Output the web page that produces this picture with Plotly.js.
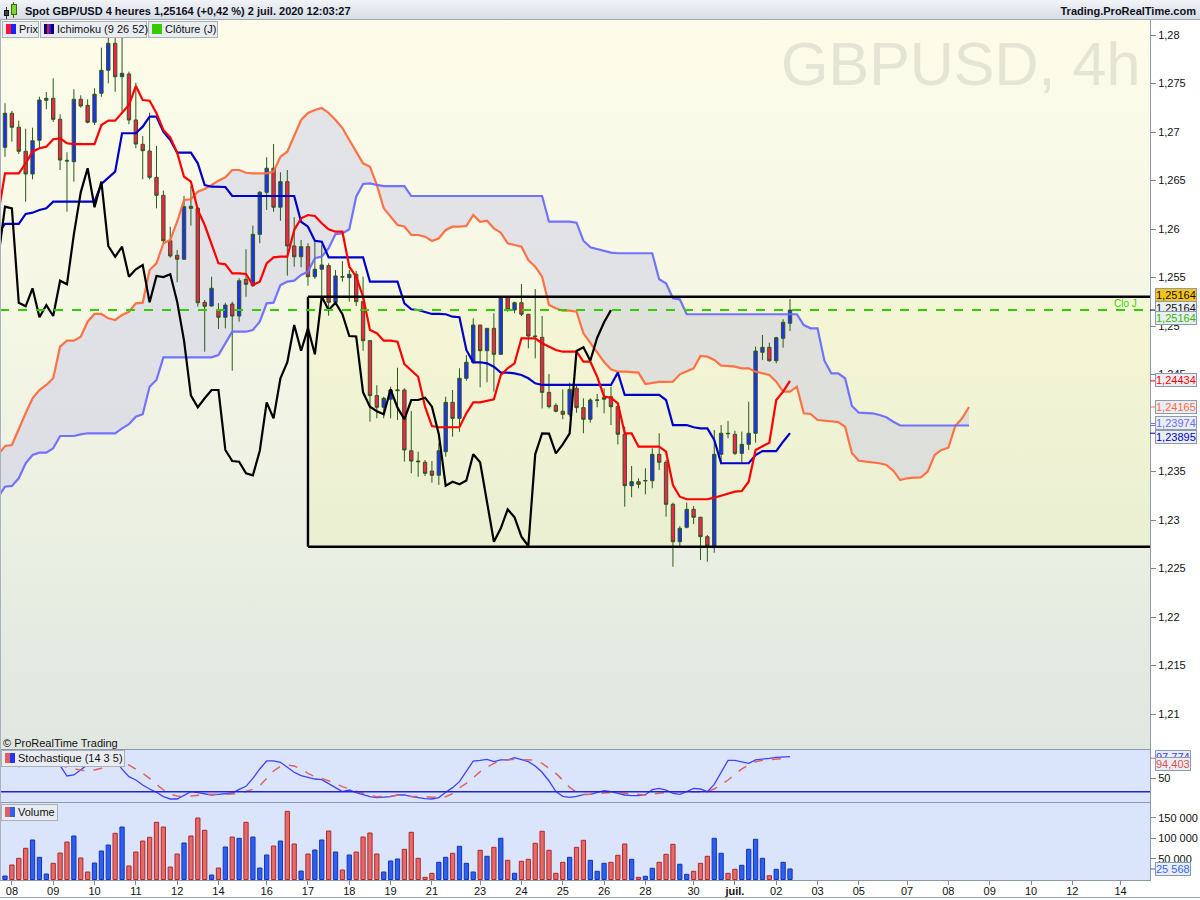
<!DOCTYPE html>
<html>
<head>
<meta charset="utf-8">
<title>GBPUSD 4h - Ichimoku</title>
<script src="https://cdn.plot.ly/plotly-3.0.1.min.js"></script>
<style>
html,body{margin:0;padding:0;background:#ffffff;}
#wrap{position:relative;width:1200px;height:900px;overflow:hidden;font-family:"Liberation Sans",Arial,Helvetica,sans-serif;color:#111;}
#bgPrice{position:absolute;left:0;top:20px;width:1150px;height:730px;background:linear-gradient(to bottom,#fcfce9 0%,#f4f6e4 45%,#e0e7e1 100%);}
#bgLower{position:absolute;left:0;top:750px;width:1150px;height:130px;background:#dae4fa;}
#water{position:absolute;left:781px;top:33px;font-size:61px;line-height:62px;color:#e5e5d5;white-space:nowrap;}
#leftEdge{position:absolute;left:0;top:20px;width:1px;height:860px;background:#a9b3c0;z-index:4;}
#bottomEdge{position:absolute;left:0;top:897px;width:1200px;height:1px;background:#9aa5b2;z-index:4;}
#chart{position:absolute;left:0;top:0;width:1200px;height:900px;z-index:2;}
#header{position:absolute;left:0;top:0;width:1200px;height:20px;z-index:3;background:linear-gradient(to bottom,#f1f4f7,#d6dde6);border-bottom:1px solid #9ea9b6;box-sizing:border-box;}
#htitle{position:absolute;left:25px;top:4px;font-size:11px;line-height:14px;font-weight:bold;color:#10101c;white-space:nowrap;}
#hsite{position:absolute;right:4px;top:4px;font-size:11px;line-height:14px;font-weight:bold;color:#10101c;white-space:nowrap;}
.hc{position:absolute;box-sizing:border-box;}
.lbox{position:absolute;z-index:3;height:17px;box-sizing:border-box;border:1px solid #a9b1bb;background:#e9edf1;font-size:11px;line-height:15px;color:#111;padding-left:3px;white-space:nowrap;}
.ic{display:inline-block;width:10px;height:10px;vertical-align:-1px;margin-right:3px;}
#copy{position:absolute;left:3px;top:736px;font-size:11px;line-height:14px;color:#111;z-index:3;white-space:nowrap;}
</style>
</head>
<body>
<div id="wrap">
  <div id="bgPrice"></div>
  <div id="bgLower"></div>
  <div id="water">GBPUSD, 4h</div>
  <div id="chart"></div>
  <div id="header">
    <div class="hc" style="left:6px;top:7px;width:1px;height:12px;background:#333;"></div>
    <div class="hc" style="left:4px;top:10px;width:5px;height:6px;background:#444;border:1px solid #111;"></div>
    <div class="hc" style="left:13px;top:2px;width:1px;height:16px;background:#3a6a10;"></div>
    <div class="hc" style="left:11px;top:4px;width:6px;height:11px;background:#7fd62c;border:1px solid #3a6a10;"></div>
    <div id="htitle">Spot GBP/USD 4 heures 1,25164 (+0,42 %) 2 juil. 2020 12:03:27</div>
    <div id="hsite">Trading.ProRealTime.com</div>
  </div>
  <div class="lbox" style="left:2px;top:21px;width:37px;"><span class="ic" style="background:linear-gradient(to right,#ff1133 50%,#1122ff 50%);"></span>Prix</div>
  <div class="lbox" style="left:40px;top:21px;width:107px;"><span class="ic" style="background:linear-gradient(to right,#000080 0,#000080 30%,#ff1010 30%,#ff1010 50%,#2020ff 50%,#2020ff 70%,#000080 70%);"></span>Ichimoku (9 26 52)</div>
  <div class="lbox" style="left:148px;top:21px;width:70px;"><span class="ic" style="background:#33cc00;"></span>Clôture (J)</div>
  <div id="copy">© ProRealTime Trading</div>
  <div class="lbox" style="left:1px;top:750px;width:124px;"><span class="ic" style="background:linear-gradient(to right,#e06060 50%,#2233ff 50%);"></span>Stochastique (14 3 5)</div>
  <div class="lbox" style="left:1px;top:804px;width:57px;"><span class="ic" style="background:linear-gradient(to right,#e06060 50%,#2f60f0 50%);"></span>Volume</div>
  <div id="leftEdge"></div>
  <div id="bottomEdge"></div>
</div>
<script>
// ---------- DATA ----------
// 4-hour bars, index 0 .. 114
const opens = [1.26842,1.27193,1.27049,1.26801,1.26567,1.26915,1.27327,1.27347,1.27131,1.26708,
 1.26694,1.27337,1.27275,1.27100,1.27399,1.27636,1.27914,1.27570,1.27598,1.27124,
 1.26873,1.26804,1.26533,1.26347,1.25879,1.25729,1.25688,1.26234,1.26213,1.25244,
 1.25206,1.25165,1.25090,1.25227,1.25103,1.25481,1.25415,1.25945,1.26378,1.26626,
 1.26224,1.26488,1.25825,1.25714,1.25818,1.25508,1.25585,1.25622,1.25244,1.25508,
 1.25498,1.25533,1.25251,1.24849,1.24282,1.24162,1.24245,1.24333,1.24340,1.23714,
 1.23608,1.23595,1.23505,1.23461,1.23704,1.24213,1.24048,1.24461,1.24626,1.25010,
 1.24745,1.24976,1.24708,1.25302,1.25165,1.25240,1.25121,1.24897,1.24883,1.24316,
 1.24182,1.24121,1.24090,1.24358,1.24158,1.24038,1.24234,1.24245,1.24271,1.24168,
 1.23884,1.23354,1.23395,1.23402,1.23405,1.23677,1.23595,1.23162,1.22776,1.22925,
 1.23110,1.23028,1.22828,1.22732,1.23677,1.23894,1.23884,1.23687,1.23780,1.23894,
 1.24729,1.24780,1.24642,1.24873,1.25028];
const highs = [1.27296,1.27217,1.27117,1.27034,1.27044,1.27364,1.27412,1.27554,1.27183,1.26791,
 1.27440,1.27378,1.27337,1.27451,1.27869,1.27969,1.27969,1.27969,1.27622,1.27508,
 1.26959,1.27199,1.26856,1.26395,1.26024,1.25784,1.26340,1.26443,1.26224,1.25268,
 1.25508,1.25234,1.25240,1.25251,1.25492,1.25791,1.26034,1.26392,1.26739,1.26876,
 1.26585,1.26608,1.26121,1.25887,1.25853,1.25869,1.25835,1.25646,1.25577,1.25670,
 1.25577,1.25567,1.25508,1.24856,1.24389,1.24271,1.24374,1.24570,1.24358,1.24124,
 1.23704,1.23619,1.23608,1.23791,1.24271,1.24340,1.24564,1.24701,1.25079,1.25010,
 1.24976,1.25131,1.25309,1.25309,1.25251,1.25433,1.25124,1.25381,1.25103,1.24505,
 1.24203,1.24347,1.24415,1.24402,1.24255,1.24255,1.24299,1.24358,1.24374,1.24219,
 1.23962,1.23557,1.23430,1.23533,1.23739,1.23894,1.23619,1.23179,1.22938,1.23179,
 1.23144,1.23034,1.22845,1.23928,1.23979,1.24021,1.23921,1.23911,1.24219,1.24787,
 1.24907,1.24828,1.24889,1.25069,1.25278];
const lows = [1.26745,1.26900,1.26773,1.26281,1.26512,1.26842,1.27234,1.27103,1.26608,1.26178,
 1.26488,1.27251,1.27090,1.27072,1.27364,1.27502,1.27415,1.27209,1.27079,1.26832,
 1.26512,1.26512,1.26213,1.25859,1.25704,1.25451,1.25680,1.26034,1.25199,1.24735,
 1.25199,1.24969,1.24976,1.24539,1.25044,1.25302,1.25405,1.25853,1.26196,1.26178,
 1.26086,1.25519,1.25611,1.25605,1.25415,1.25485,1.25302,1.25106,1.25216,1.25457,
 1.25251,1.25206,1.24745,1.24013,1.24048,1.24048,1.24048,1.24031,1.23601,1.23481,
 1.23446,1.23453,1.23385,1.23361,1.23653,1.23859,1.23910,1.24436,1.24615,1.24368,
 1.24420,1.24323,1.24701,1.25147,1.25131,1.25103,1.24770,1.24667,1.24151,1.24151,
 1.24110,1.24038,1.24065,1.24106,1.23894,1.24003,1.24162,1.24100,1.23979,1.23780,
 1.23137,1.23234,1.23327,1.23265,1.23327,1.23515,1.23034,1.22519,1.22732,1.22914,
 1.22959,1.22588,1.22570,1.22663,1.23574,1.23842,1.23670,1.23595,1.23722,1.23797,
 1.24650,1.24632,1.24615,1.24776,1.24948];
const closes = [1.27193,1.27049,1.26801,1.26567,1.26910,1.27330,1.27347,1.27131,1.26711,1.26701,
 1.27337,1.27268,1.27100,1.27389,1.27636,1.27914,1.27570,1.27605,1.27124,1.26876,
 1.26807,1.26533,1.26347,1.25879,1.25722,1.25688,1.26230,1.26213,1.25240,1.25203,
 1.25389,1.25090,1.25216,1.25103,1.25467,1.25430,1.25945,1.26378,1.26626,1.26224,
 1.26488,1.25825,1.25714,1.25818,1.25508,1.25585,1.25629,1.25244,1.25516,1.25505,
 1.25533,1.25251,1.24849,1.24282,1.24162,1.24255,1.24340,1.24340,1.23722,1.23608,
 1.23601,1.23481,1.23461,1.23714,1.24213,1.24048,1.24461,1.24626,1.25010,1.24745,
 1.24976,1.24708,1.25302,1.25165,1.25240,1.25121,1.24897,1.24892,1.24316,1.24168,
 1.24121,1.24090,1.24347,1.24158,1.24038,1.24237,1.24237,1.24261,1.24168,1.23884,
 1.23354,1.23395,1.23368,1.23407,1.23677,1.23595,1.23162,1.22776,1.22914,1.23110,
 1.23028,1.22828,1.22732,1.23677,1.23894,1.23890,1.23687,1.23780,1.23894,1.24742,
 1.24780,1.24642,1.24879,1.25038,1.25164];

// Ichimoku lines, bar index -1 .. 114
const tenkan = [1.26144,1.26574,1.26574,1.26574,1.26677,1.26797,1.26832,1.26849,1.26925,1.26935,
 1.26884,1.26876,1.26876,1.26876,1.26876,1.27072,1.27117,1.27117,1.27193,1.27278,
 1.27474,1.27330,1.27323,1.27193,1.27021,1.26945,1.26787,1.26539,1.26488,1.26196,
 1.26041,1.25835,1.25646,1.25636,1.25543,1.25543,1.25536,1.25423,1.25457,1.25646,
 1.25708,1.25715,1.25715,1.25990,1.26110,1.26144,1.26134,1.26059,1.25997,1.25972,
 1.25972,1.25611,1.25508,1.25302,1.24959,1.24925,1.24849,1.24849,1.24838,1.24608,
 1.24547,1.24477,1.24168,1.23969,1.23956,1.23956,1.23956,1.23956,1.24100,1.24213,
 1.24213,1.24230,1.24244,1.24495,1.24564,1.24615,1.24873,1.24873,1.24873,1.24822,
 1.24787,1.24753,1.24735,1.24735,1.24735,1.24632,1.24632,1.24477,1.24271,1.24261,
 1.24203,1.23894,1.23894,1.23756,1.23756,1.23756,1.23756,1.23704,1.23361,1.23240,
 1.23214,1.23214,1.23214,1.23214,1.23230,1.23248,1.23268,1.23292,1.23299,1.23395,
 1.23722,1.23756,1.23797,1.24237,1.24323,1.24434];
const kijun = [1.25959,1.26052,1.26052,1.26052,1.26155,1.26168,1.26196,1.26213,1.26282,1.26282,
 1.26282,1.26282,1.26282,1.26282,1.26282,1.26464,1.26523,1.26591,1.26987,1.26987,
 1.26987,1.27055,1.27158,1.27158,1.27003,1.26918,1.26787,1.26787,1.26787,1.26677,
 1.26454,1.26436,1.26436,1.26433,1.26340,1.26340,1.26340,1.26340,1.26340,1.26340,
 1.26340,1.26340,1.26340,1.26340,1.26075,1.26024,1.25879,1.25869,1.25708,1.25708,
 1.25708,1.25708,1.25708,1.25708,1.25457,1.25457,1.25457,1.25457,1.25457,1.25234,
 1.25172,1.25165,1.25147,1.25124,1.25124,1.25121,1.25096,1.25090,1.24753,1.24626,
 1.24626,1.24615,1.24580,1.24519,1.24519,1.24512,1.24495,1.24461,1.24409,1.24392,
 1.24392,1.24392,1.24392,1.24392,1.24392,1.24392,1.24392,1.24392,1.24392,1.24392,
 1.24519,1.24289,1.24289,1.24289,1.24289,1.24289,1.24289,1.24237,1.23979,1.23979,
 1.23979,1.23956,1.23945,1.23945,1.23825,1.23585,1.23585,1.23585,1.23585,1.23585,
 1.23670,1.23711,1.23711,1.23711,1.23807,1.23895];
// Senkou spans, bar index -1 .. 140 (26 bars into the future)
const senkouA = [1.23670,1.23763,1.23773,1.23945,1.24100,1.24255,1.24340,1.24392,1.24461,1.24787,
 1.24849,1.24849,1.24890,1.25044,1.25124,1.25124,1.25079,1.25062,1.25113,1.25147,
 1.25234,1.25240,1.25577,1.25646,1.25853,1.25887,1.26075,1.26299,1.26306,1.26385,
 1.26412,1.26454,1.26498,1.26533,1.26608,1.26608,1.26580,1.26574,1.26574,1.26574,
 1.26591,1.26745,1.26797,1.26969,1.27124,1.27196,1.27227,1.27247,1.27196,1.27124,
 1.27041,1.26918,1.26797,1.26677,1.26642,1.26454,1.26213,1.26121,1.26041,1.26026,
 1.25938,1.25938,1.25921,1.25876,1.25904,1.25990,1.26024,1.26024,1.26031,1.26144,
 1.26075,1.26086,1.26007,1.25962,1.25853,1.25835,1.25818,1.25680,1.25611,1.25508,
 1.25217,1.25183,1.25158,1.25158,1.25147,1.24925,1.24822,1.24719,1.24629,1.24554,
 1.24529,1.24529,1.24526,1.24519,1.24402,1.24416,1.24423,1.24423,1.24426,1.24502,
 1.24529,1.24564,1.24691,1.24684,1.24650,1.24591,1.24588,1.24581,1.24564,1.24564,
 1.24529,1.24512,1.24495,1.24426,1.24323,1.24323,1.24374,1.24100,1.24093,1.24031,
 1.24021,1.24017,1.24010,1.23962,1.23688,1.23611,1.23601,1.23591,1.23585,1.23567,
 1.23508,1.23412,1.23430,1.23436,1.23440,1.23498,1.23670,1.23722,1.23745,1.23969,
 1.24048,1.24165];
const senkouB = [1.23237,1.23343,1.23351,1.23430,1.23585,1.23670,1.23694,1.23694,1.23739,1.23866,
 1.23866,1.23866,1.23883,1.23894,1.23894,1.23894,1.23894,1.23894,1.23945,1.23987,
 1.24065,1.24090,1.24374,1.24443,1.24677,1.24677,1.24677,1.24677,1.24677,1.24677,
 1.24677,1.24677,1.24701,1.24822,1.24941,1.24941,1.24941,1.24959,1.25044,1.25234,
 1.25240,1.25423,1.25457,1.25467,1.25526,1.25560,1.25698,1.25715,1.25801,1.25948,
 1.25955,1.25997,1.26333,1.26464,1.26471,1.26454,1.26443,1.26443,1.26443,1.26443,
 1.26340,1.26340,1.26340,1.26340,1.26340,1.26340,1.26340,1.26340,1.26340,1.26340,
 1.26340,1.26340,1.26340,1.26340,1.26340,1.26340,1.26340,1.26340,1.26340,1.26340,
 1.26075,1.26075,1.26075,1.26075,1.26065,1.25879,1.25811,1.25791,1.25778,1.25756,
 1.25750,1.25750,1.25750,1.25750,1.25750,1.25750,1.25482,1.25440,1.25286,1.25275,
 1.25121,1.25121,1.25121,1.25121,1.25121,1.25121,1.25121,1.25121,1.25121,1.25121,
 1.25121,1.25121,1.25121,1.25121,1.25121,1.25121,1.25121,1.25010,1.24976,1.24976,
 1.24642,1.24512,1.24512,1.24461,1.24175,1.24106,1.24106,1.24100,1.24083,1.24059,
 1.24013,1.23974,1.23974,1.23974,1.23974,1.23974,1.23974,1.23974,1.23974,1.23974,
 1.23974,1.23974];

// Stochastic (14 3 5), bar index 0 .. 114
const stochK = [85,80,76,78,85,92,90,82,77.9,54.9,
 57.1,68.2,80,85,95,100,90,70,53.4,46.0,
 34.9,26.0,18.6,9.0,3.8,3.8,12.7,20.1,17.9,14.9,
 12.7,14.2,15.7,17.1,25.3,32.0,49.7,70.5,88.3,88.3,
 85.3,74.2,63.1,55.7,52.0,48.2,46.8,38.6,29.0,20.1,
 23.8,17.9,12.7,9.0,6.8,8.2,9.0,12.7,12.7,9.0,
 6.0,4.5,3.8,6.8,18.6,29.0,42.3,64.5,88.2,89.7,
 91.9,86.8,90.5,90.5,95.7,91.2,86.8,77.1,63.1,43.8,
 20.1,9.7,7.5,9.7,13.4,14.2,18.6,22.3,20.1,16.4,
 12.7,11.2,11.2,13.4,24.5,27.5,23.8,16.4,14.2,20.1,
 27.5,26.0,20.1,36.4,63.1,89.7,89.7,86.8,83.1,90.5,
 91.9,94.2,96.4,96.4,97.774];
const stochD = [82,83,82,80,80,83,86,85,77.9,74.9,
 70.5,67.5,66.8,68.2,71.9,79.4,83.1,83.1,79.4,70.5,
 60.8,49.7,36.4,23.8,14.2,10.5,9.0,10.5,12.7,14.2,
 14.2,14.2,14.2,14.9,16.4,20.1,25.3,33.4,49.7,66.0,
 76.4,79.4,77.1,70.5,60.8,53.4,49.7,44.5,38.6,31.2,
 26.0,21.6,15.7,11.2,9.0,9.0,9.7,12.0,12.0,9.7,
 9.0,9.0,7.5,7.5,9.0,15.7,29.0,38.6,51.2,64.5,
 74.2,83.1,89.0,90.5,91.9,91.2,90.5,90.5,83.1,72.0,
 60.8,46.0,29.7,18.6,14.2,14.2,15.7,17.9,18.6,17.9,
 16.4,14.2,13.4,12.7,14.9,17.1,19.4,20.1,20.1,20.1,
 20.1,20.1,20.1,26.0,36.4,46.0,58.6,70.5,79.4,86.8,
 89.7,91.2,93.4,93.9,94.403];
const stochLevel = 20;

// Volume, bar index 0 .. 114
const volumes = [8500,35200,51400,75700,95900,53900,13300,39300,64300,91000,
 105600,52200,18200,40000,69200,83700,112100,127400,32800,66700,
 93400,102400,138800,127400,30300,61900,88600,105600,149300,119400,
 10900,27900,78900,103100,100000,138800,103100,27900,59500,81300,
 93400,165500,86200,20600,61900,71600,95900,117700,66700,23100,
 59500,66700,103100,112900,61900,18200,44900,49800,73300,114600,
 51400,5300,15000,41700,53900,63600,80600,39300,18200,70900,
 56300,78100,100000,46600,15000,44200,49000,87900,117000,70900,
 15000,41700,53900,78100,95100,46600,19900,39300,41700,58700,
 86200,49000,5300,7800,27200,41700,61200,85400,36900,12600,
 19900,39300,56300,100000,63600,15000,24800,34500,73300,97600,
 51400,9200,24800,41700,25568];

// Drawn range box (support / resistance), in price units, starting at bar 44 (17 June)
const boxStartBar = 44;
const boxHigh = 1.25302;
const boxLow = 1.22725;

// Axis ticks (the 1,24 label is fully covered by the value boxes in the reference)
const dayTickBars = [1,7,13,19,25,31,38,44,50,56,62,69,75,81,87,93,100,106,112,118,124,131,137,143,149,155,162];
const dayTickLabels = ['08','09','10','11','12','14','16','17','18','19','21','23','24','25','26','28','30','<b>juil.</b>','02','03','05','07','08','09','10','12','14'];
const priceTickVals = [1.21,1.215,1.22,1.225,1.23,1.235,1.24,1.245,1.25,1.255,1.26,1.265,1.27,1.275,1.28];
const priceTickText = ['1,21','1,215','1,22','1,225','1,23','1,235','','1,245','1,25','1,255','1,26','1,265','1,27','1,275','1,28'];
const stochTickVals = [50];
const stochTickText = ['50'];
const volTickVals = [50000,100000,150000];
const volTickText = ['50 000','100 000','150 000'];

// ---------- BUILD ----------
const seq = (n, start) => Array.from({length: n}, (_, k) => start + k);
const barX = seq(closes.length, 0);
const lineX = seq(tenkan.length, -1);
const cloudX = seq(senkouA.length, -1);
const chikou = closes.slice(25);          // close shifted 26 bars back
const chikouX = seq(chikou.length, -1);
const lastI = closes.length - 1;
const lastClose = closes[lastI];

const X_RANGE = [-0.726, 166.28];
const P_RANGE = [1.20634, 1.281546];
const S_RANGE = [-4, 113.78];
const V_RANGE = [-1200, 186900];

const UP = '#1f2dff', DN = '#ff1f4c', WICK = '#2c5a1c';
const C_TENKAN = '#ff0000', C_KIJUN = '#0000c8', C_SA = '#ff6a3c', C_SB = '#6c6cff', C_CHIKOU = '#000000';
const C_K = '#4040ff', C_D = '#e06464';

const volFill = barX.map(i => closes[i] >= opens[i] ? '#2e60f0' : '#e56a6a');
const volEdge = barX.map(i => closes[i] >= opens[i] ? '#1535b8' : '#b02a2a');

const fmtP = v => v.toFixed(5).replace('.', ',');
const fmtS = v => v.toFixed(3).replace('.', ',');
const fmtV = v => String(Math.round(v)).replace(/\B(?=(\d{3})+(?!\d))/g, ' ');

const traces = [
  {type:'scatter', mode:'lines', x:cloudX, y:senkouA, xaxis:'x', yaxis:'y', line:{width:0, color:'rgba(0,0,0,0)'}, hoverinfo:'skip'},
  {type:'scatter', mode:'lines', x:cloudX, y:senkouB, xaxis:'x', yaxis:'y', line:{width:0, color:'rgba(0,0,0,0)'}, fill:'tonexty', fillcolor:'rgba(188,188,232,0.36)', hoverinfo:'skip'},
  {type:'candlestick', x:barX, open:opens, high:highs, low:lows, close:closes, xaxis:'x', yaxis:'y4',
   increasing:{fillcolor:UP, line:{color:WICK, width:1}},
   decreasing:{fillcolor:DN, line:{color:WICK, width:1}}, whiskerwidth:0, hoverinfo:'skip'},
  {type:'scatter', mode:'lines', x:cloudX, y:senkouA, xaxis:'x', yaxis:'y5', line:{color:C_SA, width:2.2}, opacity:0.95},
  {type:'scatter', mode:'lines', x:cloudX, y:senkouB, xaxis:'x', yaxis:'y5', line:{color:C_SB, width:2.2}, opacity:0.95},
  {type:'scatter', mode:'lines', x:lineX, y:kijun, xaxis:'x', yaxis:'y5', line:{color:C_KIJUN, width:2.2}},
  {type:'scatter', mode:'lines', x:lineX, y:tenkan, xaxis:'x', yaxis:'y5', line:{color:C_TENKAN, width:2.2}},
  {type:'scatter', mode:'lines', x:chikouX, y:chikou, xaxis:'x', yaxis:'y5', line:{color:C_CHIKOU, width:2.2}},
  {type:'scatter', mode:'lines', x:barX, y:stochK, xaxis:'x', yaxis:'y2', line:{color:C_K, width:1.3}},
  {type:'scatter', mode:'lines', x:barX, y:stochD, xaxis:'x', yaxis:'y2', line:{color:C_D, width:1.5, dash:'dash'}},
  {type:'bar', x:barX, y:volumes, xaxis:'x', yaxis:'y3', width:0.62, marker:{color:volFill, line:{color:volEdge, width:1}}}
];

const axisCommon = {showgrid:false, zeroline:false, showline:true, linecolor:'#8e99a8', linewidth:1,
  ticks:'outside', tickcolor:'#7d8896', tickfont:{size:11, color:'#111'}, fixedrange:true};

const tickMark = (yref, y, color) => ({type:'line', xref:'paper', yref:yref, x0:1, x1:1.0045, y0:y, y1:y, line:{color:color, width:1}});
const valueBox = (yref, y, text, color, shift, bg) => ({xref:'paper', yref:yref, x:1, y:y, xanchor:'left', yanchor:'middle',
  xshift:5, yshift:shift, text:text, showarrow:false, font:{size:11, color:color},
  bgcolor:bg || '#e9eef5', bordercolor:'#8d9bab', borderwidth:1, borderpad:0});

const shapes = [
  {type:'rect', layer:'below', xref:'x', yref:'y', x0:boxStartBar, x1:X_RANGE[1], y0:boxLow, y1:boxHigh, fillcolor:'rgba(240,242,140,0.18)', line:{width:0}},
  {type:'line', xref:'x', yref:'y', x0:boxStartBar, x1:X_RANGE[1], y0:boxHigh, y1:boxHigh, line:{color:'#000', width:2.4}},
  {type:'line', xref:'x', yref:'y', x0:boxStartBar, x1:X_RANGE[1], y0:boxLow, y1:boxLow, line:{color:'#000', width:2.4}},
  {type:'line', xref:'x', yref:'y', x0:boxStartBar, x1:boxStartBar, y0:boxLow, y1:boxHigh, line:{color:'#000', width:2.4}},
  {type:'line', xref:'paper', yref:'y', x0:0, x1:1, y0:lastClose, y1:lastClose, line:{color:'#33cc00', width:2, dash:'dash'}},
  {type:'line', xref:'paper', yref:'y2', x0:0, x1:1, y0:stochLevel, y1:stochLevel, line:{color:'#2424d0', width:1.5}},
  {type:'line', xref:'paper', yref:'paper', x0:0, x1:1, y0:0.15174, y1:0.15174, line:{color:'#8e99a8', width:1}},
  {type:'line', xref:'paper', yref:'paper', x0:0, x1:1, y0:0.09012, y1:0.09012, line:{color:'#8e99a8', width:1}},
  tickMark('y', lastClose, '#000'),
  tickMark('y', tenkan[tenkan.length-1], C_TENKAN),
  tickMark('y', senkouA[senkouA.length-1], C_SA),
  tickMark('y', senkouB[senkouB.length-1], C_SB),
  tickMark('y', kijun[kijun.length-1], C_KIJUN),
  tickMark('y2', stochD[lastI], C_D),
  tickMark('y3', volumes[lastI], '#3366ff')
];

const annotations = [
  valueBox('y', lastClose, fmtP(lastClose), '#111', 2.5),
  valueBox('y', lastClose, fmtP(lastClose), '#111', 15, '#f7c31c'),
  valueBox('y', lastClose, fmtP(lastClose), '#33bb00', -7.5),
  valueBox('y', tenkan[tenkan.length-1], fmtP(tenkan[tenkan.length-1]), C_TENKAN, 1),
  valueBox('y', senkouA[senkouA.length-1], fmtP(senkouA[senkouA.length-1]), C_SA, 0),
  valueBox('y', senkouB[senkouB.length-1], fmtP(senkouB[senkouB.length-1]), C_SB, 2.5),
  valueBox('y', kijun[kijun.length-1], fmtP(kijun[kijun.length-1]), C_KIJUN, -3.5),
  valueBox('y2', stochK[lastI], fmtS(stochK[lastI]), C_K, 0),
  valueBox('y2', stochD[lastI], fmtS(stochD[lastI]), '#e05050', -5.5),
  valueBox('y3', volumes[lastI], fmtV(volumes[lastI]), '#3366ff', 0),
  {xref:'paper', yref:'y', x:1, y:lastClose, xanchor:'right', yanchor:'middle', xshift:-11, yshift:7,
   text:'Clo J', showarrow:false, font:{size:10, color:'#33cc00'}}
];

const layout = {
  width:1200, height:900,
  margin:{l:0, r:50, t:20, b:20, pad:0},
  paper_bgcolor:'rgba(0,0,0,0)', plot_bgcolor:'rgba(0,0,0,0)',
  separators:', ',
  showlegend:false,
  font:{family:'"Liberation Sans", Arial, Helvetica, sans-serif', size:11, color:'#111'},
  xaxis:Object.assign({}, axisCommon, {range:X_RANGE, domain:[0,1], anchor:'y3', tickmode:'array',
    tickvals:dayTickBars, ticktext:dayTickLabels, ticklen:4, ticklabelstandoff:-3, rangeslider:{visible:false}}),
  yaxis:Object.assign({}, axisCommon, {domain:[0.15174,1], range:P_RANGE, side:'right', anchor:'x',
    tickmode:'array', tickvals:priceTickVals, ticktext:priceTickText, ticklen:5}),
  yaxis4:{overlaying:'y', anchor:'x', range:P_RANGE, visible:false, fixedrange:true},
  yaxis5:{overlaying:'y', anchor:'x', range:P_RANGE, visible:false, fixedrange:true},
  yaxis2:Object.assign({}, axisCommon, {domain:[0.09012,0.15174], range:S_RANGE, side:'right', anchor:'x',
    tickmode:'array', tickvals:stochTickVals, ticktext:stochTickText, ticklen:5}),
  yaxis3:Object.assign({}, axisCommon, {domain:[0,0.09012], range:V_RANGE, side:'right', anchor:'x',
    tickmode:'array', tickvals:volTickVals, ticktext:volTickText, ticklen:5}),
  bargap:0.3,
  shapes:shapes,
  annotations:annotations
};

Plotly.newPlot('chart', traces, layout, {staticPlot:true, displayModeBar:false});
</script>
</body>
</html>
